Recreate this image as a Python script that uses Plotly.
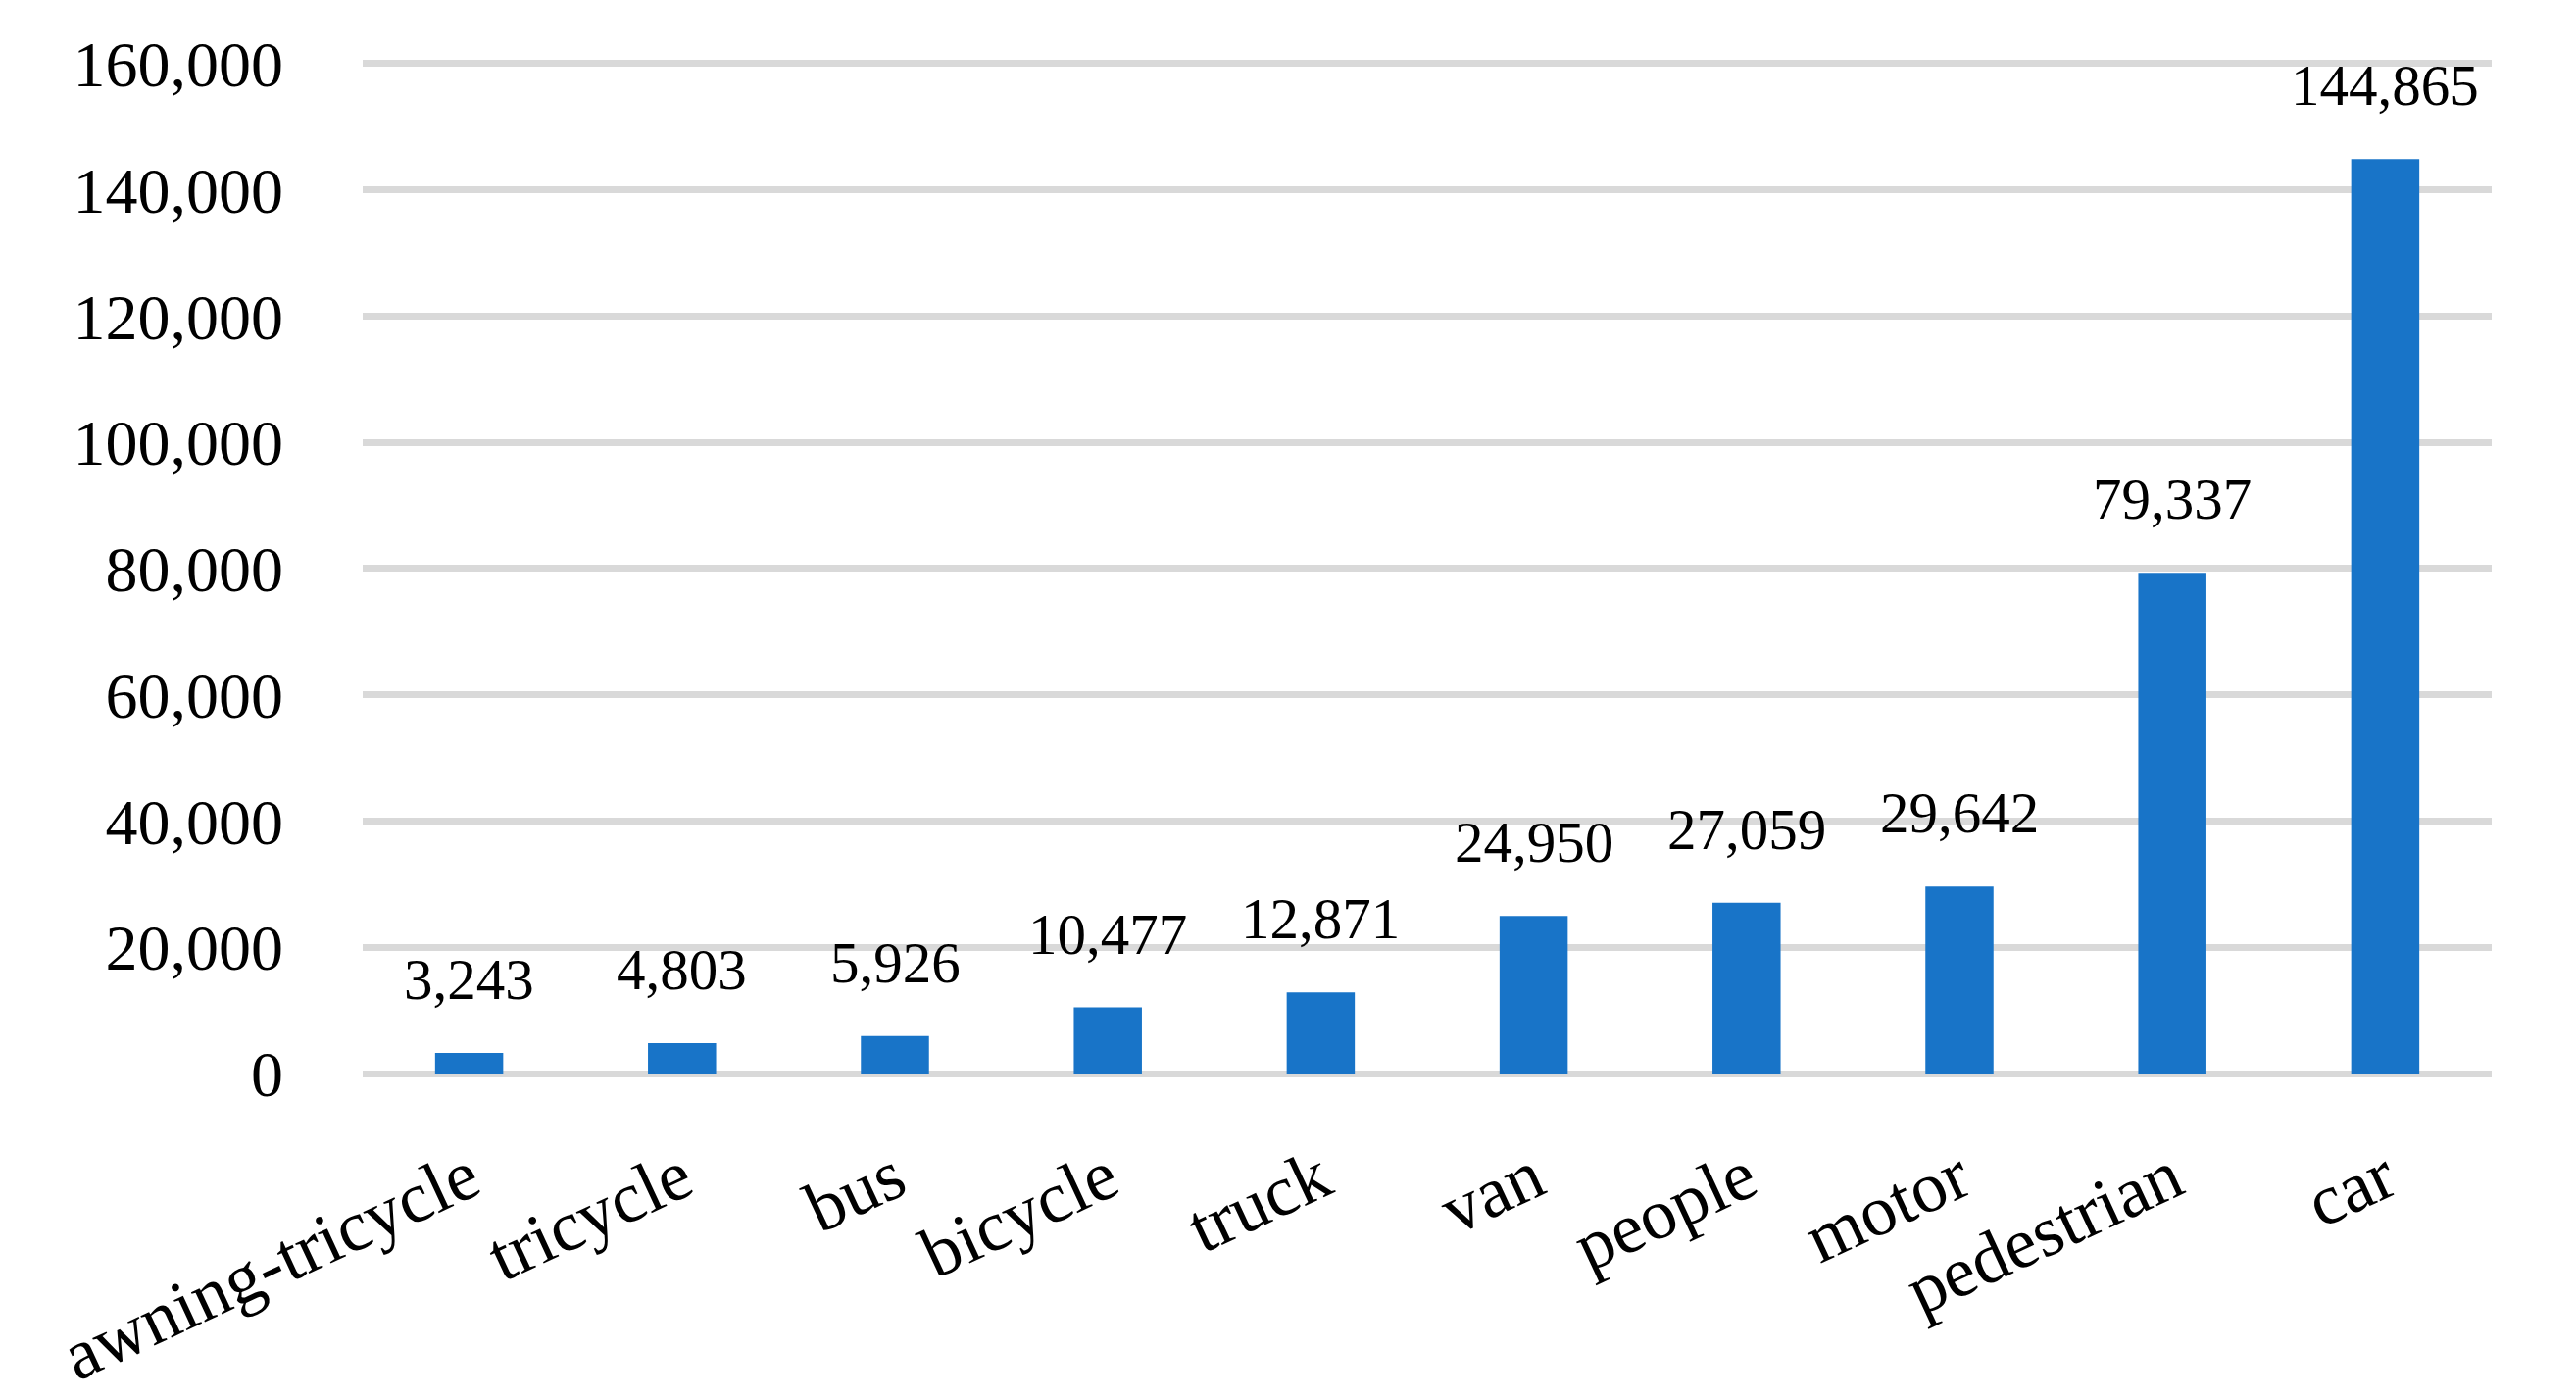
import plotly.graph_objects as go

categories = ["awning-tricycle", "tricycle", "bus", "bicycle", "truck",
              "van", "people", "motor", "pedestrian", "car"]
counts = [3243, 4803, 5926, 10477, 12871, 24950, 27059, 29642, 79337, 144865]
y_ticks = [0, 20000, 40000, 60000, 80000, 100000, 120000, 140000, 160000]
y_tick_labels = [f"{v:,}" for v in y_ticks]

FONT = "Liberation Serif"
BAR = "#1874c8"
GRID = "#d9d9d9"

fig = go.Figure()
fig.add_trace(go.Bar(
    x=categories, y=counts, marker=dict(color=BAR, line=dict(width=0)),
    hoverinfo="x+y",
))

for c, v in zip(categories, counts):
    fig.add_annotation(
        x=c, y=v, text=f"{v:,}", showarrow=False,
        xanchor="center", yanchor="bottom", yshift=40,
        font=dict(family=FONT, size=59, color="black"),
    )

# page body has an 8px default margin, so the figure is sized to fit inside it
fig.update_layout(
    width=2620, height=1420,
    margin=dict(l=362, r=86, t=55, b=333, autoexpand=False),
    paper_bgcolor="white", plot_bgcolor="white",
    bargap=0.68, showlegend=False,
    font=dict(family=FONT, color="black"),
)
fig.update_xaxes(
    type="category", tickangle=-25, showgrid=False, showline=False,
    tickfont=dict(family=FONT, size=73, color="black"),
    ticklabelstandoff=50, automargin=False,
)
fig.update_yaxes(
    range=[0, 160300], tickvals=y_ticks, ticktext=y_tick_labels,
    showgrid=True, gridcolor=GRID, gridwidth=7,
    zeroline=True, zerolinecolor=GRID, zerolinewidth=7,
    showline=False,
    tickfont=dict(family=FONT, size=66, color="black"),
    ticklabelstandoff=80, automargin=False,
)

fig.write_html("out.html")
